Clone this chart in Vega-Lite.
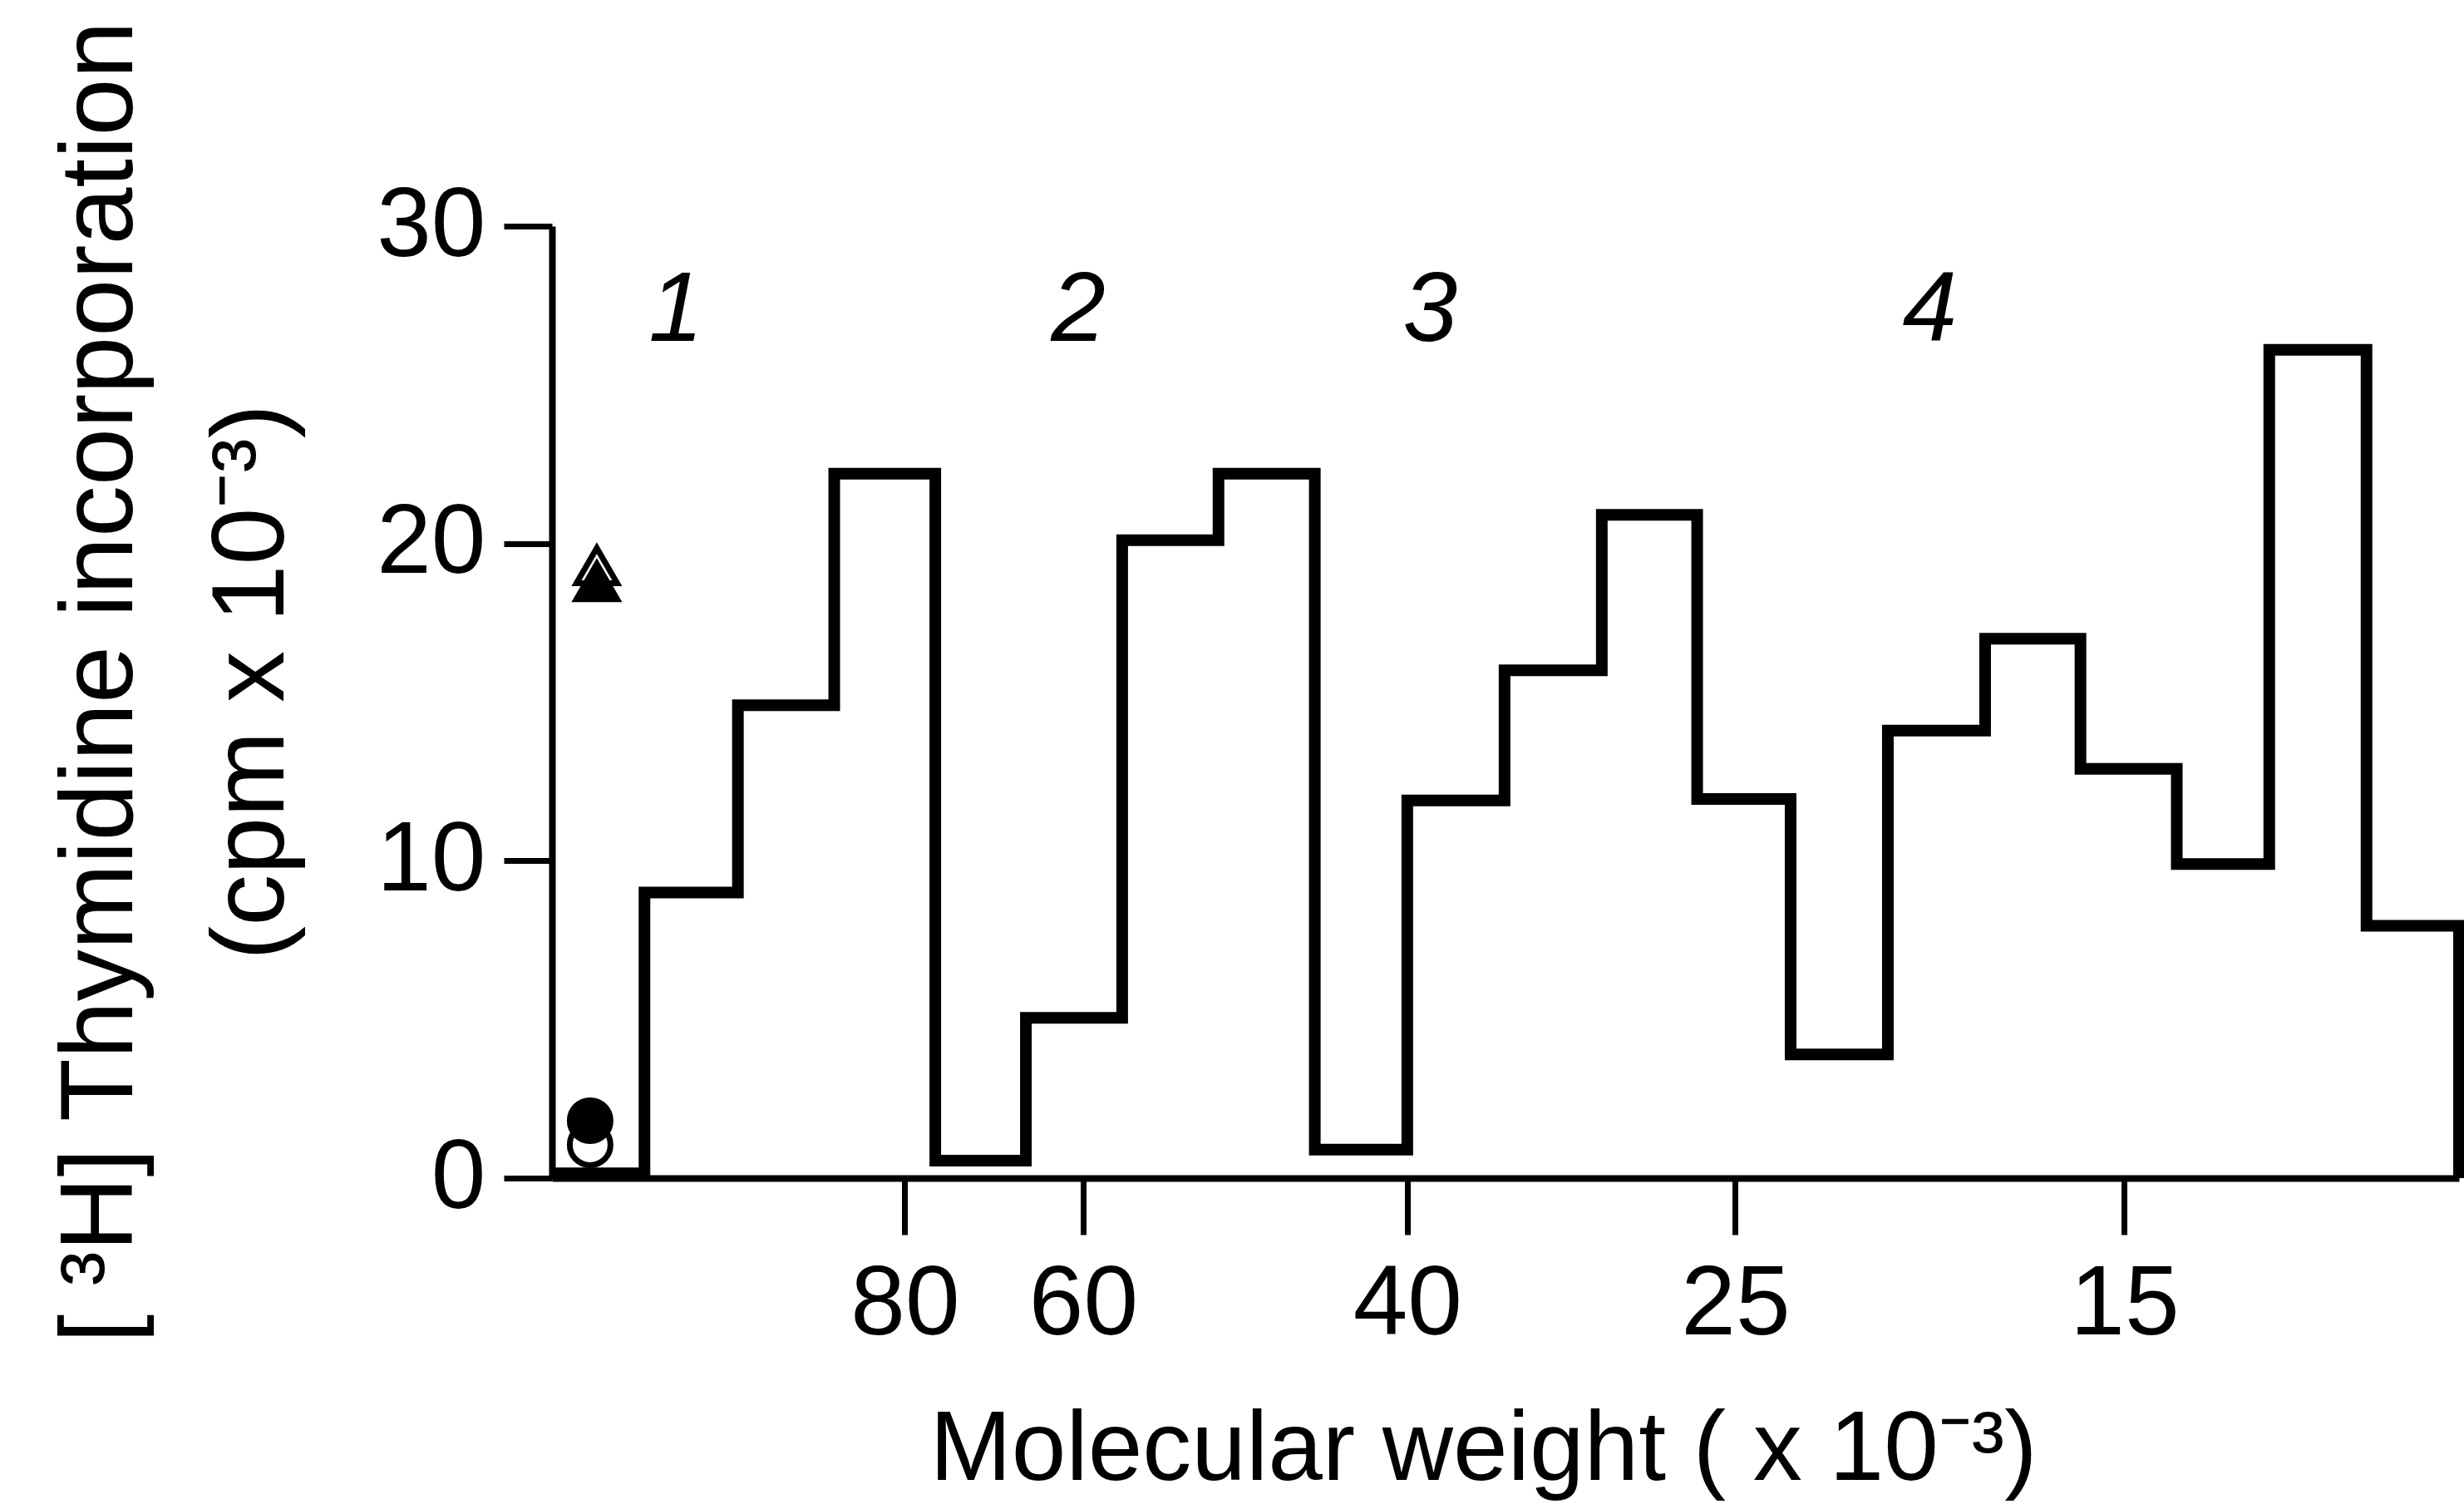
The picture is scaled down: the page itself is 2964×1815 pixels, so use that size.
{
  "$schema": "https://vega.github.io/schema/vega-lite/v6.json",
  "width": 2294,
  "height": 1145,
  "autosize": {"type": "none"},
  "padding": {"left": 664, "top": 272, "right": 6, "bottom": 398},
  "background": "white",
  "config": {
    "view": {"stroke": null},
    "font": "Liberation Sans",
    "axis": {
      "grid": false,
      "domainColor": "black",
      "tickColor": "black",
      "labelColor": "black",
      "titleColor": "black",
      "labelFont": "Liberation Sans",
      "titleFont": "Liberation Sans",
      "titleFontWeight": "normal",
      "labelFlush": false,
      "labelOverlap": false
    }
  },
  "datasets": {
    "fractions": [
      {"x": 0, "cpm": 0.15},
      {"x": 0.97, "cpm": 9.0},
      {"x": 1.95, "cpm": 14.9},
      {"x": 2.96, "cpm": 22.2},
      {"x": 4.02, "cpm": 0.55},
      {"x": 4.97, "cpm": 5.05},
      {"x": 5.98, "cpm": 20.1},
      {"x": 6.99, "cpm": 22.2},
      {"x": 8.0, "cpm": 0.9},
      {"x": 8.97, "cpm": 11.9},
      {"x": 9.99, "cpm": 16.0},
      {"x": 11.01, "cpm": 20.9},
      {"x": 12.01, "cpm": 11.95},
      {"x": 12.99, "cpm": 3.9},
      {"x": 14.01, "cpm": 14.1},
      {"x": 15.03, "cpm": 17.0},
      {"x": 16.03, "cpm": 12.9},
      {"x": 17.04, "cpm": 9.9},
      {"x": 18.01, "cpm": 26.1},
      {"x": 19.03, "cpm": 7.95},
      {"x": 20, "cpm": 0}
    ],
    "controls": [
      {"series": "open triangle", "x": 0.47, "cpm": 19.3},
      {"series": "filled triangle", "x": 0.47, "cpm": 18.8},
      {"series": "open circle", "x": 0.4, "cpm": 1.05},
      {"series": "filled circle", "x": 0.4, "cpm": 1.81}
    ],
    "peaks": [
      {"x": 1.3, "cpm": 27.3, "peak": "1"},
      {"x": 5.52, "cpm": 27.3, "peak": "2"},
      {"x": 9.21, "cpm": 27.3, "peak": "3"},
      {"x": 14.45, "cpm": 27.3, "peak": "4"}
    ]
  },
  "layer": [
    {
      "data": {"name": "fractions"},
      "mark": {"type": "line", "interpolate": "step-after", "stroke": "black", "strokeWidth": 14, "strokeJoin": "miter"},
      "encoding": {
        "x": {
          "field": "x",
          "type": "quantitative",
          "scale": {"domain": [0, 20], "nice": false, "zero": false},
          "axis": {
            "values": [3.7, 5.57, 8.97, 12.41, 16.49],
            "labelExpr": "datum.value < 4 ? '80' : datum.value < 6 ? '60' : datum.value < 10 ? '40' : datum.value < 14 ? '25' : '15'",
            "title": "Molecular weight ( x 10⁻³)",
            "domainWidth": 8,
            "tickWidth": 7,
            "tickSize": 68,
            "labelFontSize": 118,
            "labelPadding": 26,
            "titleFontSize": 118,
            "titleX": 1120,
            "titleY": 362,
            "titleBaseline": "alphabetic",
            "titleAlign": "center"
          }
        },
        "y": {
          "field": "cpm",
          "type": "quantitative",
          "scale": {"domain": [0, 30], "nice": false},
          "axis": {
            "values": [0, 10, 20, 30],
            "title": ["[ ³H] Thymidine incorporation", "(cpm x 10⁻³)"],
            "domainWidth": 8,
            "tickWidth": 7,
            "tickSize": 58,
            "labelFontSize": 118,
            "labelPadding": 22,
            "titleFontSize": 124,
            "titleLineHeight": 182,
            "titleX": -506,
            "titleY": 548,
            "titleAngle": 270,
            "titleBaseline": "alphabetic",
            "titleAlign": "center"
          }
        }
      }
    },
    {
      "data": {"name": "controls"},
      "mark": {"type": "point", "stroke": "black", "strokeWidth": 7, "opacity": 1},
      "encoding": {
        "x": {"field": "x", "type": "quantitative"},
        "y": {"field": "cpm", "type": "quantitative"},
        "shape": {
          "field": "series",
          "type": "nominal",
          "scale": {"domain": ["open triangle", "filled triangle", "open circle", "filled circle"], "range": ["triangle-up", "triangle-up", "circle", "circle"]},
          "legend": null
        },
        "fill": {
          "field": "series",
          "type": "nominal",
          "scale": {"domain": ["open triangle", "filled triangle", "open circle", "filled circle"], "range": ["transparent", "black", "white", "black"]},
          "legend": null
        },
        "size": {"value": 2400}
      }
    },
    {
      "data": {"name": "peaks"},
      "mark": {"type": "text", "fontSize": 118, "fontStyle": "italic", "font": "Liberation Sans", "align": "center", "baseline": "middle", "color": "black"},
      "encoding": {
        "x": {"field": "x", "type": "quantitative"},
        "y": {"field": "cpm", "type": "quantitative"},
        "text": {"field": "peak"}
      }
    }
  ]
}
